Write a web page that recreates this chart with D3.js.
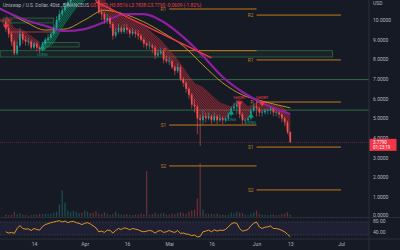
<!DOCTYPE html>
<html lang="de">
<head>
<meta charset="UTF-8">
<title>UNI / USD</title>
<script src="https://cdn.jsdelivr.net/npm/d3@7"></script>
<style>
  body { margin: 0; background: #161a25; }
  svg { display: block; font-family: Roboto, "Noto Sans", sans-serif; }
</style>
</head>
<body>
<svg class="svg"></svg>
<script>
// daily candles from 4 Mar 2022
const startDay = '2022-03-04';
const firstOpen = 9.9;
const close = [9.6, 9.3, 8.9, 8.3, 8.7, 9.3, 9.0, 8.9, 8.9, 8.6, 8.8, 8.6, 8.5, 8.8, 9.0, 9.1, 9.3, 9.6, 10.0, 10.3,
  10.5, 10.7, 10.9, 11.1, 11.3, 11.5, 11.6, 11.3, 11.6, 11.8, 11.7, 11.4, 11.0, 10.4, 10.3, 10.0, 10.1, 9.8, 9.2, 9.4,
  9.6, 9.4, 9.6, 9.5, 9.3, 9.4, 9.3, 9.2, 9.0, 8.8, 8.7, 8.7, 8.6, 8.2, 8.3, 8.4, 8.0, 7.9, 7.9, 7.6,
  7.4, 7.6, 7.0, 6.8, 6.5, 6.2, 5.7, 5.6, 5.0, 4.9, 5.1, 5.0, 5.1, 4.9, 5.1, 4.9, 5.0, 4.9, 5.0, 5.2,
  5.5, 5.6, 5.7, 5.2, 4.9, 4.9, 5.0, 5.4, 5.6, 5.5, 5.3, 5.3, 5.4, 5.4, 5.5, 5.3, 5.3, 5.2, 5.0, 4.8,
  4.3, 3.779];
const high = [10.1, 9.8, 9.4, 9.0, 8.9, 9.6, 9.4, 9.2, 9.1, 9.0, 8.9, 8.9, 8.7, 8.9, 9.1, 9.3, 9.4, 9.8, 10.2, 10.5,
  10.7, 10.9, 11.1, 11.3, 11.6, 11.8, 11.9, 11.7, 11.8, 12.1, 12.0, 11.8, 11.5, 11.1, 10.6, 10.4, 10.3, 10.2, 9.9, 9.6,
  9.8, 9.7, 9.8, 9.8, 9.6, 9.6, 9.5, 9.5, 9.3, 9.1, 8.9, 8.9, 8.8, 8.7, 8.5, 8.6, 8.5, 8.2, 8.1, 8.0,
  7.7, 7.8, 7.7, 7.1, 6.9, 6.6, 6.3, 6.0, 5.7, 5.2, 5.4, 5.3, 5.3, 5.2, 5.3, 5.2, 5.2, 5.1, 5.1, 5.3,
  5.6, 5.8, 5.95, 5.7, 5.3, 5.0, 5.1, 5.5, 5.8, 5.9, 5.6, 5.4, 5.5, 5.5, 5.6, 5.5, 5.4, 5.4, 5.3, 5.1,
  4.9, 4.35];
const low = [9.4, 9.1, 8.7, 8.2, 8.2, 8.6, 8.8, 8.7, 8.7, 8.5, 8.5, 8.4, 8.3, 8.4, 8.7, 8.9, 9.0, 9.2, 9.5, 9.9,
  10.2, 10.4, 10.6, 10.8, 11.0, 11.2, 11.3, 11.1, 11.2, 11.5, 11.4, 11.2, 10.9, 10.3, 10.0, 9.8, 9.8, 9.6, 9.0, 9.1,
  9.3, 9.3, 9.3, 9.3, 9.1, 9.2, 9.1, 9.0, 8.9, 8.6, 8.5, 8.5, 8.3, 8.0, 8.1, 8.2, 7.8, 7.8, 7.7, 7.5,
  7.2, 7.3, 6.9, 6.6, 6.3, 6.0, 5.5, 5.3, 4.2, 3.6, 4.7, 4.8, 4.9, 4.7, 4.8, 4.7, 4.8, 4.7, 4.8, 4.9,
  5.1, 5.4, 5.2, 5.0, 4.7, 4.7, 4.8, 4.9, 5.3, 5.1, 5.1, 5.1, 5.2, 5.2, 5.2, 5.1, 5.1, 5.0, 4.8, 4.6,
  4.2, 3.75];
const volume = [2, 1.5, 2, 5, 2.5, 3.5, 2, 1.5, 1, 1.5, 2, 2, 3, 2.5, 3, 2.5, 3, 4, 5, 12,
  26, 14, 6, 4.5, 6, 5, 3.5, 4, 6, 5, 3.5, 4, 5.5, 3, 2.5, 4.5, 3, 2, 2.5, 5,
  3, 2, 2, 2.5, 1.5, 1.5, 2, 2, 3, 2.5, 45, 2, 2.5, 4, 2.5, 3, 3.5, 2, 2, 3,
  2.5, 3.5, 4.5, 3.5, 3, 5, 6, 7, 18, 53, 7, 3, 2.5, 3, 2.5, 3, 2, 2, 1.5, 2,
  4, 3, 5, 4, 3.5, 2, 1.5, 3, 4, 6, 3, 2, 1.5, 1.5, 2, 2, 1.5, 1.5, 2.5, 3,
  4.5, 2];
const rsi = [40, 36, 38, 35, 50, 59, 50, 48, 49, 44, 50, 47, 45, 56, 62, 65, 68, 70, 72, 74,
  70, 73, 68, 71, 72, 68, 66, 62, 66, 68, 64, 58, 52, 40, 42, 38, 45, 44, 36, 44,
  50, 47, 52, 50, 46, 50, 48, 46, 42, 40, 42, 44, 42, 36, 42, 44, 38, 40, 44, 40,
  38, 44, 35, 36, 33, 32, 28, 30, 24, 26, 40, 42, 45, 40, 46, 42, 45, 44, 47, 55,
  64, 68, 66, 50, 42, 44, 47, 58, 66, 70, 55, 50, 54, 55, 58, 50, 50, 48, 44, 40,
  32, 25];

// moving averages, weekly readings
const maDates = ['2022-03-02', '2022-03-11', '2022-03-18', '2022-03-25', '2022-04-01', '2022-04-08', '2022-04-15', '2022-04-22',
  '2022-04-29', '2022-05-06', '2022-05-13', '2022-05-20', '2022-05-27', '2022-06-03', '2022-06-10', '2022-06-13'];
const maPurple = [10.56, 10.0, 9.7, 9.44, 9.54, 9.9, 10.3, 10.3, 9.9, 9.13, 8.17, 7.1, 6.34, 5.78, 5.37, 5.22];
const maYellow = [10.6, 9.9, 9.49, 9.54, 10.0, 10.5, 10.3, 9.9, 9.34, 8.68, 7.71, 6.8, 6.19, 5.88, 5.63, 5.53];

// trailing band [day index, price]
const redBand1 = [[0, 10.3], [3, 9.6], [6, 9.5], [9, 9.2], [12, 8.9]];
const greenBand = [[13, 8.4], [17, 8.8], [21, 9.8], [25, 10.6], [29, 11.1]];
const redBand2 = [[32, 11.8], [36, 10.8], [40, 10.3], [45, 10.0], [50, 9.6], [55, 9.0], [60, 8.2], [64, 7.4], [67, 6.8],
  [70, 6.6], [73, 6.2], [76, 5.8], [80, 5.6], [83, 6.0], [86, 5.6], [90, 5.9], [95, 5.7], [98, 5.6], [101, 5.2]];

const trendDates = ['2022-04-05', '2022-05-16'];
const trendPrices = [10.92, 8.07];

const zoneStart = ['2022-03-03', '2022-03-17', '2022-03-02'];
const zoneEnd = ['2022-03-21', '2022-03-30', '2022-06-28'];
const zoneTop = [10.1, 8.85, 8.44];
const zoneBottom = [9.85, 8.63, 8.12];
const supportLevels = [6.97, 5.42];
const redLevel = { from: '2022-03-05', to: '2022-03-22', price: 9.39 };

const mayNames = ['R1', 'P', 'S1', 'S2'];
const mayPivots = [10.56, 8.44, 4.66, 2.58];
const juneNames = ['R2', 'R1', 'P', 'S1', 'S2'];
const junePivots = [10.25, 7.97, 5.83, 3.54, 1.36];

const signalIdx = [0, 13, 80, 83, 87, 91];
const signalType = ['SHORT', 'LONG', 'LONG', 'SHORT', 'LONG', 'SHORT'];
const signalPrice = [9.65, 8.63, 5.32, 5.73, 5.17, 5.73];

const priceTicks = [0, 1, 2, 3, 4, 5, 6, 7, 8, 9, 10];
const rsiTicks = [80, 40];
const timeTickDates = ['2022-03-14', '2022-04-01', '2022-04-16', '2022-05-01', '2022-05-16', '2022-06-01', '2022-06-13', '2022-07-01'];
const timeTickLabels = ['14', 'Apr', '16', 'Mai', '16', 'Jun', '13', 'Jul'];

const W = 400, H = 250, plotR = 369, paneB = 217.5, rsiB = 239;
const bg = '#161a25', line = '#2a2e39', txt = '#b2b5be';
const up = '#26a69a', down = '#ef5350', orange = '#c27a1e', green = '#2f6b45';

const svg = d3.select('.svg').attr('width', W).attr('height', H);
svg.append('rect').attr('width', W).attr('height', H).attr('fill', bg);

const t0 = new Date(startDay);
const day = i => d3.utcDay.offset(t0, i);
const x = d3.scaleUtc().domain([new Date('2022-03-14'), new Date('2022-07-01')]).range([34, 341]);
const y = d3.scaleLinear().domain([0, 10]).range([216.7, 20]);
const yVol = d3.scaleLinear().domain([0, 53]).range([216.7, 163]);
const yRsi = d3.scaleLinear().domain([30, 70]).range([235, 222]);

const defs = svg.append('defs');
defs.append('clipPath').attr('id', 'pane').append('rect').attr('width', plotR).attr('height', paneB);
function hatch(id, color) {
  const p = defs.append('pattern').attr('id', id).attr('patternUnits', 'userSpaceOnUse')
    .attr('width', 1.5).attr('height', 1.5).attr('patternTransform', 'rotate(35)');
  p.append('line').attr('x1', 0).attr('y1', 0).attr('x2', 0).attr('y2', 1.5)
    .attr('stroke', color).attr('stroke-width', 0.8);
}
hatch('hRed', 'rgba(242,54,69,0.8)');
hatch('hGreen', 'rgba(8,190,120,0.85)');

const pane = svg.append('g').attr('clip-path', 'url(#pane)');

// zones and levels
zoneTop.forEach((t, i) => {
  pane.append('rect')
    .attr('x', x(new Date(zoneStart[i]))).attr('y', y(t))
    .attr('width', x(new Date(zoneEnd[i])) - x(new Date(zoneStart[i])))
    .attr('height', y(zoneBottom[i]) - y(t))
    .attr('fill', 'rgba(47,107,69,0.12)').attr('stroke', green).attr('stroke-width', 0.8);
});
supportLevels.forEach(v => {
  pane.append('line').attr('x1', 0).attr('x2', plotR).attr('y1', y(v)).attr('y2', y(v))
    .attr('stroke', green).attr('stroke-width', 1);
});
pane.append('line')
  .attr('x1', x(new Date(redLevel.from))).attr('x2', x(new Date(redLevel.to)))
  .attr('y1', y(redLevel.price)).attr('y2', y(redLevel.price))
  .attr('stroke', '#b2323c').attr('stroke-width', 1);

// pivots
function pivots(names, vals, from, to) {
  const x1 = x(new Date(from)), x2 = x(new Date(to));
  vals.forEach((v, i) => {
    pane.append('line').attr('x1', x1).attr('x2', x2).attr('y1', y(v)).attr('y2', y(v))
      .attr('stroke', orange).attr('stroke-width', 1);
    pane.append('text').attr('x', x1 - 3).attr('y', y(v) + 1.7).attr('text-anchor', 'end')
      .attr('font-size', 4.8).attr('fill', orange).text(names[i]);
  });
}
pivots(mayNames, mayPivots, '2022-05-01', '2022-06-01');
pivots(juneNames, junePivots, '2022-06-01', '2022-07-01');

// volume
const opens = close.map((c, i) => i ? close[i - 1] : firstOpen);
pane.selectAll('.vol').data(volume).join('rect')
  .attr('x', (d, i) => x(day(i)) - 0.6).attr('width', 1.2)
  .attr('y', d => yVol(d)).attr('height', d => yVol(0) - yVol(d))
  .attr('fill', (d, i) => close[i] >= opens[i] ? up : down).attr('opacity', 0.4);

// ribbons
function ribbon(band) {
  const i0 = band[0][0], i1 = band[band.length - 1][0];
  const pts = d3.range(i0, i1 + 1).map(i => [x(day(i)), y(close[i])]);
  band.slice().reverse().forEach(b => pts.push([x(day(b[0])), y(b[1])]));
  return d3.line()(pts) + 'Z';
}
[[redBand1, 'hRed', 'rgba(242,54,69,0.15)'], [greenBand, 'hGreen', 'rgba(8,190,120,0.15)'], [redBand2, 'hRed', 'rgba(242,54,69,0.15)']]
  .forEach(([b, pat, base]) => {
    pane.append('path').attr('d', ribbon(b)).attr('fill', base);
    pane.append('path').attr('d', ribbon(b)).attr('fill', `url(#${pat})`);
  });

// moving averages
const maLine = d3.line().x((d, i) => x(new Date(maDates[i]))).y(d => y(d)).curve(d3.curveMonotoneX);
pane.append('path').attr('d', maLine(maYellow)).attr('fill', 'none').attr('stroke', '#c9a227').attr('stroke-width', 0.9);
pane.append('path').attr('d', maLine(maPurple)).attr('fill', 'none').attr('stroke', '#8e1f9e').attr('stroke-width', 2.2);

// trendline
pane.append('line')
  .attr('x1', x(new Date(trendDates[0]))).attr('y1', y(trendPrices[0]))
  .attr('x2', x(new Date(trendDates[1]))).attr('y2', y(trendPrices[1]))
  .attr('stroke', '#f23645').attr('stroke-width', 1.4);

// candles
const c = pane.selectAll('.c').data(close).join('g')
  .attr('stroke', (d, i) => d >= opens[i] ? up : down)
  .attr('fill', (d, i) => d >= opens[i] ? up : down);
c.append('line').attr('x1', (d, i) => x(day(i))).attr('x2', (d, i) => x(day(i)))
  .attr('y1', (d, i) => y(high[i])).attr('y2', (d, i) => y(low[i])).attr('stroke-width', 0.6);
c.append('rect').attr('x', (d, i) => x(day(i)) - 0.8).attr('width', 1.6).attr('stroke', 'none')
  .attr('y', (d, i) => y(Math.max(d, opens[i])))
  .attr('height', (d, i) => Math.max(0.6, Math.abs(y(d) - y(opens[i]))));

// signals
signalIdx.forEach((k, i) => {
  const cx = x(day(k)), cy = y(signalPrice[i]);
  const isLong = signalType[i] === 'LONG';
  const col = isLong ? '#089981' : '#f23645';
  const tri = isLong ? `M${cx},${cy - 2.5}L${cx + 3},${cy + 2.5}L${cx - 3},${cy + 2.5}Z`
                     : `M${cx},${cy + 2.5}L${cx + 3},${cy - 2.5}L${cx - 3},${cy - 2.5}Z`;
  pane.append('path').attr('d', tri).attr('fill', col);
  pane.append('text').attr('x', cx).attr('y', isLong ? cy + 9 : cy - 4.5).attr('text-anchor', 'middle')
    .attr('font-size', 4).attr('fill', col).text(signalType[i]);
});

// last price line
const last = close[close.length - 1];
svg.append('line').attr('x1', 0).attr('x2', plotR).attr('y1', y(last)).attr('y2', y(last))
  .attr('stroke', '#f23645').attr('stroke-opacity', 0.6).attr('stroke-width', 0.6).attr('stroke-dasharray', '1,1');

// rsi pane
svg.append('line').attr('x1', 0).attr('x2', W).attr('y1', paneB).attr('y2', paneB).attr('stroke', line);
svg.append('rect').attr('x', 0).attr('y', yRsi(70)).attr('width', plotR).attr('height', yRsi(30) - yRsi(70))
  .attr('fill', 'rgba(126,87,194,0.1)');
[70, 30].forEach(v => svg.append('line').attr('x1', 0).attr('x2', plotR).attr('y1', yRsi(v)).attr('y2', yRsi(v))
  .attr('stroke', '#4a4e5c').attr('stroke-width', 0.6).attr('stroke-dasharray', '1.5,1.5'));
svg.append('path').attr('d', d3.line().x((d, i) => x(day(i))).y(d => yRsi(d))(rsi))
  .attr('fill', 'none').attr('stroke', '#f7a21b').attr('stroke-width', 0.9);

// frames
svg.append('line').attr('x1', plotR).attr('x2', plotR).attr('y1', 0).attr('y2', H).attr('stroke', line);
svg.append('line').attr('x1', 0).attr('x2', W).attr('y1', rsiB).attr('y2', rsiB).attr('stroke', line);

// axes
const yAxis = d3.axisRight(y).tickValues(priceTicks).tickFormat(d3.format('.4f')).tickSize(0).tickPadding(4);
svg.append('g').attr('transform', `translate(${plotR},0)`).call(yAxis)
  .call(g => g.select('.domain').remove())
  .selectAll('text').attr('font-size', 5).attr('fill', txt).attr('font-family', 'Roboto, sans-serif')
  .attr('dy', d => d === 0 ? '-0.1em' : '0.32em');
const rAxis = d3.axisRight(yRsi).tickValues(rsiTicks).tickFormat(d3.format('.2f')).tickSize(0).tickPadding(4);
svg.append('g').attr('transform', `translate(${plotR},0)`).call(rAxis)
  .call(g => g.select('.domain').remove())
  .selectAll('text').attr('font-size', 5).attr('fill', txt).attr('font-family', 'Roboto, sans-serif')
  .attr('dy', d => d === 80 ? '0.75em' : '0.32em');
svg.append('text').attr('x', 373).attr('y', 4.5).attr('font-size', 5).attr('fill', txt).text('USD');

const xAxis = d3.axisBottom(x).tickValues(timeTickDates.map(d => new Date(d)))
  .tickFormat((d, i) => timeTickLabels[i]).tickSize(0).tickPadding(3);
svg.append('g').attr('transform', `translate(0,${rsiB})`).call(xAxis)
  .call(g => g.select('.domain').remove())
  .selectAll('text').attr('font-size', 5).attr('fill', txt).attr('font-family', 'Roboto, sans-serif');

// price tag
const ly = y(last);
svg.append('rect').attr('x', plotR + 0.5).attr('y', ly - 3.5).attr('width', 27).attr('height', 12).attr('fill', '#f23645');
svg.append('text').attr('x', plotR + 4).attr('y', ly + 1.3).attr('font-size', 4.5).attr('fill', '#fff').text(d3.format('.4f')(last));
svg.append('text').attr('x', plotR + 4).attr('y', ly + 7).attr('font-size', 4.5).attr('fill', '#fff').text('01:23:19');

// header
const head = svg.append('text').attr('x', 3).attr('y', 6.5).attr('font-size', 4.8).attr('fill', txt);
head.append('tspan').text('Uniswap / U.S. Dollar, 4Std., BINANCEUS ');
['O3.8371', 'H3.8516', 'L3.7838', 'C3.7790', '-0.0609 (-1.82%)'].forEach(s =>
  head.append('tspan').attr('fill', '#f23645').text(' ' + s));
</script>
</body>
</html>
